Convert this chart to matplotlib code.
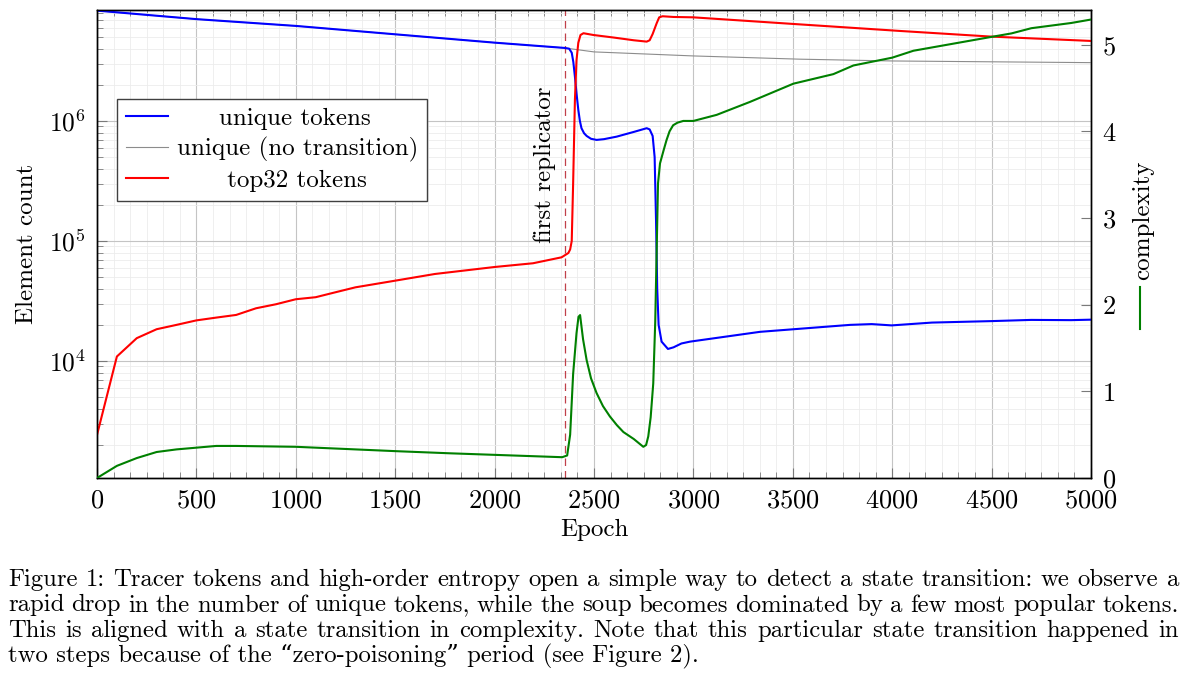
import numpy as np
import matplotlib
matplotlib.use("Agg")
from matplotlib import pyplot as plt
from matplotlib.ticker import AutoMinorLocator, LogLocator, NullFormatter, MultipleLocator
from matplotlib.lines import Line2D

plt.rcParams['font.family'] = ['cmr10', 'DejaVu Serif']
plt.rcParams['mathtext.fontset'] = 'cm'
plt.rcParams['axes.formatter.use_mathtext'] = True

# unique tokens (blue)
ep_unique = [0, 500, 1000, 1500, 2000, 2350, 2375, 2388, 2396, 2404, 2412, 2421, 2429,
             2437, 2450, 2463, 2485, 2513, 2550, 2614, 2700, 2765, 2780, 2795, 2805,
             2812, 2818, 2825, 2840, 2872, 2900, 2940, 2983, 3335, 3788, 3897,
             3997, 4200, 4500, 4700, 4900, 5000]
unique = [8.3e6, 7.05e6, 6.19e6, 5.27e6, 4.49e6, 4.06e6, 4.0e6, 3.7e6, 3.1e6, 2.34e6,
          1.7e6, 1.24e6, 1.0e6, 8.7e5, 7.9e5, 7.5e5, 7.1e5, 6.95e5, 7.05e5, 7.4e5,
          8.1e5, 8.7e5, 8.5e5, 7.5e5, 5.0e5, 1.5e5, 4.0e4, 2.0e4, 1.45e4, 1.26e4,
          1.3e4, 1.4e4, 1.45e4, 1.75e4, 2.0e4, 2.03e4, 1.98e4, 2.09e4, 2.15e4, 2.2e4,
          2.19e4, 2.21e4]

# unique tokens without transition (gray)
ep_notrans = [0, 500, 1000, 1500, 2000, 2350, 2500, 3000, 3536, 4000, 5000]
notrans = [8.3e6, 7.05e6, 6.19e6, 5.27e6, 4.49e6, 4.06e6, 3.76e6, 3.48e6, 3.27e6,
           3.16e6, 3.06e6]

# top32 tokens (red)
ep_top32 = [0, 100, 200, 300, 400, 500, 600, 700, 800, 900, 1000, 1100, 1200, 1300,
            1500, 1700, 2000, 2193, 2337, 2371, 2380, 2388, 2395, 2404, 2412, 2421,
            2432, 2447, 2497, 2600, 2700, 2765, 2780, 2795, 2815, 2828, 2845, 2900,
            2998, 3501, 4039, 4500, 5000]
top32 = [2420, 1.09e4, 1.55e4, 1.84e4, 2.0e4, 2.18e4, 2.3e4, 2.42e4, 2.75e4, 2.97e4,
         3.27e4, 3.4e4, 3.74e4, 4.11e4, 4.67e4, 5.31e4, 6.07e4, 6.52e4, 7.31e4,
         7.94e4, 8.5e4, 1.0e5, 3.0e5, 1.5e6, 3.2e6, 4.47e6, 5.2e6, 5.38e6, 5.2e6,
         4.95e6, 4.7e6, 4.58e6, 4.7e6, 5.3e6, 6.5e6, 7.3e6, 7.45e6, 7.35e6, 7.3e6,
         6.43e6, 5.62e6, 5.04e6, 4.64e6]

# complexity (green, right axis)
ep_cx = [0, 100, 200, 300, 400, 500, 600, 700, 1000, 1500, 1775, 2340, 2365, 2380,
         2395, 2412, 2422, 2430, 2445, 2463, 2485, 2513, 2545, 2580, 2615, 2648,
         2700, 2748, 2762, 2773, 2785, 2798, 2808, 2815, 2822, 2832, 2850, 2865,
         2880, 2898, 2920, 2949, 3000, 3117, 3285, 3503, 3704, 3805, 4000, 4107,
         4500, 4600, 4700, 4800, 4900, 5000]
cx = [0.0, 0.14, 0.23, 0.30, 0.33, 0.35, 0.37, 0.37, 0.36, 0.31, 0.285, 0.24, 0.26,
      0.5, 1.2, 1.67, 1.86, 1.88, 1.6, 1.36, 1.15, 0.98, 0.83, 0.71, 0.61, 0.53, 0.45,
      0.36, 0.38, 0.48, 0.7, 1.09, 1.8, 2.6, 3.4, 3.63, 3.78, 3.9, 4.0, 4.07, 4.1,
      4.12, 4.12, 4.19, 4.34, 4.55, 4.66, 4.76, 4.85, 4.93, 5.09, 5.13, 5.19, 5.22,
      5.25, 5.29]

first_replicator = 2355

labels = ['unique tokens', 'unique (no transition)', 'top32 tokens']

caption = ["Figure 1: Tracer tokens and high-order entropy open a simple way to detect a state transition: we observe a",
           "rapid drop in the number of unique tokens, while the soup becomes dominated by a few most popular tokens.",
           "This is aligned with a state transition in complexity. Note that this particular state transition happened in",
           "two steps because of the \u201czero-poisoning\u201d period (see Figure 2)."]

W, H = 1191, 681
fig = plt.figure(figsize=(W/100, H/100), dpi=100)
renderer = fig.canvas.get_renderer()

def text_w(s, size):
    t = fig.text(0, 0, s, fontsize=size)
    w = t.get_window_extent(renderer).width
    t.remove()
    return w

ax = fig.add_axes([97/W, 1-478/H, 994/W, 468/H])
ax2 = ax.twinx()

# center legend labels by padding with spaces
sp = text_w('x x', 18) - text_w('xx', 18)
lw_ = [text_w(s, 18) for s in labels]
pad_labels = [' ' * int(round((max(lw_) - w) / 2 / sp)) + s for s, w in zip(labels, lw_)]

l_gray, = ax.plot(ep_notrans, notrans, color='#8c8c8c', lw=0.8, label=pad_labels[1], zorder=3)
l_blue, = ax.plot(ep_unique, unique, color='blue', lw=1.5, label=pad_labels[0], zorder=4)
l_red, = ax.plot(ep_top32, top32, color='red', lw=1.5, label=pad_labels[2], zorder=4)
ax2.plot(ep_cx, cx, color='#008000', lw=1.5, zorder=4)

ax.axvline(first_replicator, color='#c0404a', lw=0.9, ls=(0, (6, 4)), zorder=2)
ax.text(first_replicator - 45, 4.3e5, 'first replicator', rotation=90, ha='right',
        va='center', fontsize=18)

ax.set_yscale('log')
ax.set_xlim(0, 5000)
ax.set_ylim(1060, 8.4e6)
ax2.set_ylim(0, 5.4)
ax2.set_yticks([0, 1, 2, 3, 4, 5])

ax.xaxis.set_major_locator(MultipleLocator(500))
ax.xaxis.set_minor_locator(AutoMinorLocator(6))
ax.yaxis.set_major_locator(LogLocator(base=10, numticks=10))
ax.yaxis.set_minor_locator(LogLocator(base=10, subs=np.arange(2, 10), numticks=20))
ax.yaxis.set_minor_formatter(NullFormatter())

ax.grid(which='major', color='#c4c4c4', lw=0.8)
ax.grid(which='minor', color='#ececec', lw=0.6)
ax.set_axisbelow(True)

ax.tick_params(which='both', direction='in', top=True, colors='#7a7a7a', labelcolor='black')
ax.tick_params(axis='x', labelsize=19)
ax.tick_params(axis='y', labelsize=18.3)
ax.tick_params(which='major', length=7, width=0.8, pad=8)
ax.tick_params(which='minor', length=4.5, width=0.6)
ax2.tick_params(which='both', direction='in', colors='#7a7a7a', labelcolor='black',
                labelsize=19, length=7, width=0.8, pad=8)
for a in (ax, ax2):
    for s in a.spines.values():
        s.set_linewidth(1.0)

ax.set_xlabel('Epoch', fontsize=18, labelpad=4)
ax.set_ylabel('Element count', fontsize=18, labelpad=8)
ax2.set_ylabel('complexity', fontsize=18)
ax2.yaxis.set_label_coords(1.041, 0.55)
fig.add_artist(Line2D([1140/W, 1140/W], [1-287/H, 1-329/H], color='#008000',
                      lw=1.5, transform=fig.transFigure))

leg = ax.legend(handles=[l_blue, l_gray, l_red], loc='upper left',
                bbox_to_anchor=(0.02, 0.81), borderaxespad=0, fontsize=18,
                fancybox=False, framealpha=1, edgecolor='#404040', handlelength=1.7,
                labelspacing=0.28, borderpad=0.35, handletextpad=0.35)
leg.get_frame().set_linewidth(1.0)

# justified caption
left, right = 8, 1179
for i, line in enumerate(caption):
    y = 1 - (586 + 25.5 * i) / H
    if i == len(caption) - 1:
        fig.text(left / W, y, line, fontsize=17.8, ha='left', va='baseline')
        continue
    words = line.split(' ')
    texts = [fig.text(0, y, w, fontsize=17.8, ha='left', va='baseline') for w in words]
    widths = [t.get_window_extent(renderer).width for t in texts]
    gap = (right - left - sum(widths)) / (len(words) - 1)
    x = left
    for t, w in zip(texts, widths):
        t.set_x(x / W)
        x += w + gap

fig.savefig('out.png', dpi=100)
